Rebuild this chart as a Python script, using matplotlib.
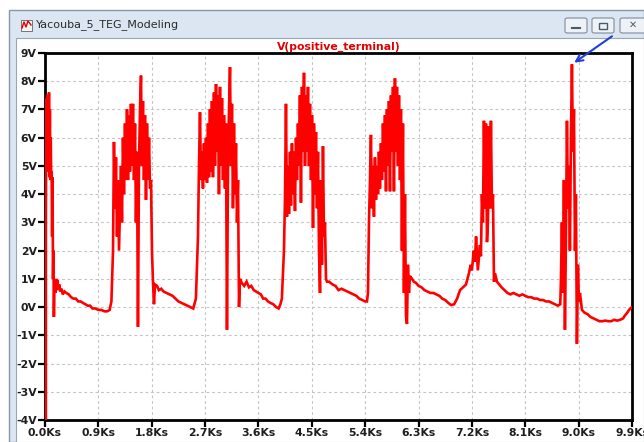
import matplotlib
matplotlib.use("Agg")
import matplotlib.pyplot as plt
from matplotlib.patches import Rectangle, FancyBboxPatch
from matplotlib.lines import Line2D

W, H = 644, 442

window_title = "Yacouba_5_TEG_Modeling"
trace_name = "V(positive_terminal)"

y_ticks = [9, 8, 7, 6, 5, 4, 3, 2, 1, 0, -1, -2, -3, -4]
y_labels = [f"{v}V" for v in y_ticks]
x_ticks = [0.0, 0.9, 1.8, 2.7, 3.6, 4.5, 5.4, 6.3, 7.2, 8.1, 9.0, 9.9]
x_labels = [f"{v:.1f}Ks" for v in x_ticks]

# ---- trace data (time in Ks, voltage in V) ----
p1_t = [0.015, 0.015, 0.020, 0.025, 0.030, 0.035, 0.040, 0.045, 0.052, 0.060, 0.067,
        0.075, 0.082, 0.090, 0.097, 0.105, 0.112, 0.120, 0.127, 0.135, 0.142, 0.150, 0.157]
p1_v = [-4.2, 3.0, 6.3, 4.8, 7.4, 5.2, 7.5, 4.9, 7.3, 5.6, 7.6,
        4.6, 7.0, 4.5, 6.0, 4.5, 4.8, 2.5, 4.6, 1.0, 2.0, -0.35, 0.6]

q1_t = [0.17, 0.18, 0.19, 0.20, 0.21, 0.22, 0.24, 0.26, 0.28, 0.30, 0.33, 0.36, 0.40,
        0.44, 0.48, 0.52, 0.56, 0.60, 0.64, 0.68, 0.72, 0.76, 0.80, 0.85, 0.90, 0.95,
        1.00, 1.05, 1.09, 1.12]
q1_v = [0.9, 0.5, 1.0, 0.7, 0.95, 0.6, 0.8, 0.55, 0.65, 0.45, 0.55, 0.5, 0.45,
        0.35, 0.3, 0.3, 0.2, 0.2, 0.15, 0.1, 0.05, 0.05, -0.05, -0.05, -0.1, -0.1,
        -0.15, -0.15, -0.1, 0.2]

p2_t = [1.147, 1.163, 1.180, 1.197, 1.214, 1.231, 1.248, 1.265, 1.282, 1.298, 1.315,
        1.332, 1.349, 1.366, 1.383, 1.400, 1.416, 1.433, 1.450, 1.467, 1.484, 1.501,
        1.518, 1.534, 1.551, 1.568, 1.585, 1.602, 1.619, 1.636, 1.652, 1.669, 1.686,
        1.703, 1.720, 1.737, 1.754, 1.771, 1.788, 1.804, 1.821, 1.838, 1.855]
p2_v = [2.0, 5.85, 3.5, 5.3, 2.5, 4.5, 2.0, 3.5, 5.0, 3.0, 6.0,
        4.0, 6.5, 4.5, 7.0, 4.5, 6.8, 4.8, 7.2, 5.0, 7.2, 4.5,
        6.5, 3.0, 5.5, -0.7, 5.0, 7.0, 8.2, 5.0, 7.3, 4.5, 6.8,
        3.8, 6.5, 4.5, 6.0, 4.2, 4.5, 2.0, 0.9, 0.1, 0.8]

q2_t = [1.89, 1.92, 1.96, 2.00, 2.05, 2.10, 2.15, 2.20, 2.25, 2.30, 2.35, 2.40,
        2.45, 2.50, 2.545]
q2_v = [0.75, 0.6, 0.65, 0.55, 0.5, 0.45, 0.4, 0.3, 0.2, 0.15, 0.1, 0.05,
        0.0, -0.05, 0.3]

p3_t = [2.580, 2.597, 2.614, 2.631, 2.648, 2.664, 2.681, 2.698, 2.715, 2.732, 2.749,
        2.766, 2.782, 2.799, 2.816, 2.833, 2.850, 2.867, 2.884, 2.901, 2.917, 2.934,
        2.951, 2.968, 2.985, 3.002, 3.019, 3.035, 3.052, 3.069, 3.086, 3.103, 3.120,
        3.137, 3.153, 3.170, 3.187, 3.204, 3.221, 3.238, 3.255, 3.272, 3.288]
p3_v = [2.5, 5.0, 6.9, 4.5, 5.5, 4.2, 5.8, 4.5, 6.0, 4.4, 6.5,
        4.6, 7.0, 4.8, 7.3, 4.6, 7.6, 5.0, 7.9, 5.5, 7.5, 4.0,
        7.8, 5.0, 7.4, 4.5, 6.8, 4.2, 6.5, -0.8, 5.0, 7.0, 8.5,
        5.0, 7.2, 3.5, 6.5, 4.0, 5.8, 3.0, 4.5, 0.0, 1.0]

q3_t = [3.32, 3.36, 3.40, 3.44, 3.48, 3.52, 3.56, 3.60, 3.64, 3.68, 3.72, 3.76,
        3.80, 3.85, 3.90, 3.94, 3.97, 3.995]
q3_v = [0.85, 0.75, 0.9, 0.7, 0.75, 0.6, 0.55, 0.5, 0.45, 0.3, 0.3, 0.2,
        0.15, 0.1, 0.0, -0.05, 0.1, 0.3]

p4_t = [4.030, 4.047, 4.064, 4.081, 4.098, 4.115, 4.132, 4.148, 4.165, 4.182, 4.199,
        4.216, 4.233, 4.250, 4.266, 4.283, 4.300, 4.317, 4.334, 4.351, 4.368, 4.385,
        4.401, 4.418, 4.435, 4.452, 4.469, 4.486, 4.503, 4.520, 4.536, 4.553, 4.570,
        4.587, 4.604, 4.621, 4.638, 4.654, 4.671, 4.688, 4.705, 4.722, 4.739, 4.756]
p4_v = [2.0, 3.8, 7.2, 3.2, 5.0, 3.3, 5.5, 3.6, 5.8, 4.0, 5.5,
        3.4, 6.0, 4.5, 6.5, 5.0, 7.5, 3.7, 7.8, 5.5, 8.3, 5.0,
        7.5, 5.5, 7.8, 5.0, 7.2, 4.5, 6.8, 2.8, 6.5, 4.0, 6.2,
        3.5, 5.5, 2.0, 0.5, 4.5, 1.5, 5.7, 2.5, 3.0, 1.0, 0.9]

q4_t = [4.79, 4.85, 4.90, 4.95, 5.00, 5.05, 5.10, 5.15, 5.20, 5.25, 5.30, 5.35,
        5.40, 5.43]
q4_v = [0.9, 0.8, 0.75, 0.6, 0.65, 0.6, 0.55, 0.5, 0.45, 0.4, 0.3, 0.25,
        0.2, 0.2]

p5_t = [5.447, 5.464, 5.481, 5.497, 5.514, 5.531, 5.548, 5.565, 5.582, 5.599, 5.616,
        5.632, 5.649, 5.666, 5.683, 5.700, 5.717, 5.734, 5.751, 5.767, 5.784, 5.801,
        5.818, 5.835, 5.852, 5.869, 5.885, 5.902, 5.919, 5.936, 5.953, 5.970, 5.987,
        6.003, 6.020, 6.037, 6.054, 6.071, 6.088, 6.105, 6.121, 6.138, 6.155]
p5_v = [0.5, 3.0, 4.5, 6.1, 3.5, 5.0, 3.2, 5.3, 3.8, 5.0, 4.0,
        5.5, 4.2, 5.8, 4.5, 6.5, 4.8, 6.8, 4.1, 7.0, 5.0, 7.3,
        4.1, 7.5, 5.5, 7.8, 4.1, 8.1, 5.5, 7.8, 5.0, 7.5, 4.5,
        7.0, 2.0, 6.5, 0.5, 4.0, -0.3, -0.6, 1.5, 0.5, 1.1]

q5_t = [6.19, 6.22, 6.26, 6.30, 6.35, 6.40, 6.45, 6.50, 6.55, 6.60, 6.65, 6.70,
        6.75, 6.80, 6.85, 6.90, 6.95, 7.00, 7.05, 7.10, 7.15, 7.18, 7.20, 7.23,
        7.25, 7.27, 7.30]
q5_v = [1.0, 0.9, 0.85, 0.75, 0.7, 0.6, 0.55, 0.5, 0.5, 0.45, 0.4, 0.3,
        0.25, 0.15, 0.07, 0.1, 0.3, 0.6, 0.7, 0.8, 1.2, 1.5, 1.3, 2.0,
        1.6, 2.5, 1.3]

p6_t = [7.336, 7.352, 7.369, 7.386, 7.403, 7.420, 7.437, 7.454, 7.470, 7.487, 7.504,
        7.521, 7.538, 7.555, 7.572, 7.589, 7.622]
p6_v = [2.2, 1.8, 4.0, 3.0, 6.6, 3.5, 6.5, 2.3, 3.0, 6.4, 3.5,
        6.6, 3.5, 4.0, 0.9, 1.2, 0.9]

q6_t = [7.66, 7.70, 7.75, 7.80, 7.85, 7.90, 7.95, 8.00, 8.05, 8.10, 8.15, 8.20,
        8.25, 8.30, 8.35, 8.40, 8.45, 8.50, 8.55, 8.60, 8.65, 8.69]
q6_v = [0.8, 0.7, 0.6, 0.5, 0.45, 0.5, 0.45, 0.4, 0.45, 0.4, 0.35, 0.35,
        0.3, 0.3, 0.25, 0.25, 0.2, 0.2, 0.15, 0.1, 0.05, 0.1]

p7_t = [8.702, 8.718, 8.735, 8.752, 8.769, 8.786, 8.803, 8.820, 8.836, 8.853, 8.870,
        8.887, 8.904, 8.921, 8.938, 8.954, 8.971, 8.988, 9.005, 9.022, 9.056]
p7_v = [1.0, 3.0, 0.5, 4.5, -0.8, 2.5, 6.6, 3.5, 5.0, 2.0, 6.0,
        8.6, 5.5, 7.0, 2.0, 4.0, -1.3, 1.5, 0.2, 0.5, -0.1]

q7_t = [9.10, 9.15, 9.20, 9.25, 9.30, 9.35, 9.40, 9.45, 9.50, 9.55, 9.60, 9.65,
        9.70, 9.75, 9.78, 9.82, 9.85, 9.90]
q7_v = [-0.2, -0.25, -0.35, -0.4, -0.45, -0.5, -0.5, -0.48, -0.5, -0.5, -0.45, -0.48,
        -0.45, -0.4, -0.3, -0.2, -0.1, 0.0]

time_ks = (p1_t + q1_t + p2_t + q2_t + p3_t + q3_t + p4_t + q4_t +
           p5_t + q5_t + p6_t + q6_t + p7_t + q7_t)
volts = (p1_v + q1_v + p2_v + q2_v + p3_v + q3_v + p4_v + q4_v +
         p5_v + q5_v + p6_v + q6_v + p7_v + q7_v)

# ---------------------------------------------------------------------
fig = plt.figure(figsize=(W / 100, H / 100), dpi=100)
fig.patch.set_facecolor("white")


def fx(x):
    return x / W


def fy(y):
    return 1 - y / H


# window frame (drawn behind the axes)
fig.patches.append(Rectangle((fx(9), fy(442)), fx(644 - 9), (442 - 10) / H,
                             transform=fig.transFigure, facecolor="#dce6f2",
                             edgecolor="#8796a8", lw=1.0, zorder=-3))
fig.patches.append(Rectangle((fx(16), fy(442)), fx(644 - 16), (442 - 38) / H,
                             transform=fig.transFigure, facecolor="white",
                             edgecolor="#9aa6b4", lw=0.8, zorder=-2))
# title bar text and icon
fig.text(fx(36), fy(25), window_title, fontsize=8, color="#2a2a2a",
         va="center", ha="left")
fig.patches.append(Rectangle((fx(21), fy(31)), fx(11), 11 / H, transform=fig.transFigure,
                             facecolor="#f4f4f4", edgecolor="#606060", lw=0.6, zorder=-1))
fig.lines.append(Line2D([fx(22), fx(24), fx(26), fx(28), fx(31)],
                        [fy(28), fy(22), fy(27), fy(21), fy(25)],
                        transform=fig.transFigure, color="#e00000", lw=1.0))
# window buttons
for (bx0, bx1) in [(565, 587), (592, 614), (620, 646)]:
    fig.patches.append(FancyBboxPatch((fx(bx0), fy(33)), fx(bx1 - bx0), 15 / H,
                                      boxstyle="round,pad=0,rounding_size=0.004",
                                      transform=fig.transFigure, facecolor="#eef2f7",
                                      edgecolor="#7d8c9c", lw=0.8, zorder=-1))
fig.lines.append(Line2D([fx(572), fx(580)], [fy(28), fy(28)], transform=fig.transFigure,
                        color="#4a5a6a", lw=1.5))
fig.patches.append(Rectangle((fx(599), fy(29)), fx(8), 6 / H, transform=fig.transFigure,
                             facecolor="none", edgecolor="#4a5a6a", lw=1.0))
fig.text(fx(633), fy(25), "✕", fontsize=7, color="#4a5a6a", ha="center", va="center")

# plot area
ax = fig.add_axes([fx(45), fy(420), fx(632 - 45), (420 - 53) / H])
ax.set_zorder(5)
ax.set_facecolor("white")
ax.plot(time_ks, volts, color="#ff0000", lw=1.9, zorder=3, solid_joinstyle="miter")
ax.set_xlim(x_ticks[0], x_ticks[-1])
ax.set_ylim(y_ticks[-1], y_ticks[0])
ax.set_xticks(x_ticks)
ax.set_xticklabels(x_labels)
ax.set_yticks(y_ticks)
ax.set_yticklabels(y_labels)
for lab in ax.get_xticklabels() + ax.get_yticklabels():
    lab.set_fontsize(7.8)
    lab.set_fontweight("bold")
    lab.set_color("#1e1e1e")
ax.tick_params(axis="both", direction="out", length=5, width=1.6, color="black", pad=1)
ax.grid(True, color="#c4c4c4", linestyle=(0, (2.5, 2.5)), lw=0.8)
ax.set_axisbelow(True)
for sp in ax.spines.values():
    sp.set_color("black")
    sp.set_linewidth(2.0)

ax.set_title(trace_name, color="#e00000", fontsize=7.8, fontweight="bold", pad=2)

# blue annotation arrow pointing at the last peak
peak_i = p7_v.index(max(p7_v))
ax.annotate("", xy=(p7_t[peak_i], p7_v[peak_i]), xytext=(40, 28),
            textcoords="offset pixels", annotation_clip=False,
            arrowprops=dict(arrowstyle="->", color="#1f3fd8", lw=1.5,
                            shrinkA=0, shrinkB=2, mutation_scale=12))

fig.savefig("out.png", dpi=100)
